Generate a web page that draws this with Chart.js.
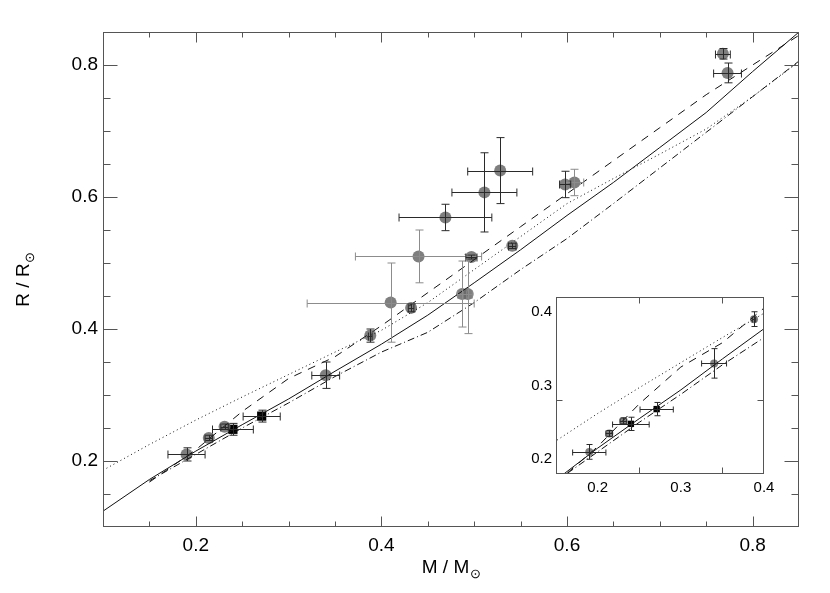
<!DOCTYPE html>
<html>
<head>
<meta charset="utf-8">
<script src="https://cdn.jsdelivr.net/npm/chart.js@4/dist/chart.umd.min.js"></script>
<style>
body { margin: 0; background: #fff; }
#wrap { position: relative; width: 830px; height: 593px; }
#inset { position: absolute; left: 500px; top: 280px; }
</style>
</head>
<body>
<div id="wrap">
<canvas id="main" width="830" height="593"></canvas>
<canvas id="inset" width="285" height="230"></canvas>
</div>
<script>
// model tracks (mass grid, radius for each model)
const trackMass = [0.10, 0.15, 0.20, 0.25, 0.30, 0.35, 0.40, 0.45, 0.50, 0.55, 0.60, 0.65, 0.70, 0.75, 0.80, 0.85];
const solidR   = [0.124, 0.172, 0.215, 0.255, 0.294, 0.336, 0.377, 0.421, 0.470, 0.520, 0.572, 0.622, 0.675, 0.728, 0.790, 0.850];
const dottedR  = [0.186, 0.225, 0.262, 0.297, 0.331, 0.365, 0.398, 0.440, 0.490, 0.540, 0.590, 0.628, 0.665, 0.703, 0.752, 0.805];
// dashed and dash-dot start at 0.15
const dashedR  = [0.168, 0.217, 0.275, 0.325, 0.358, 0.405, 0.455, 0.505, 0.555, 0.605, 0.655, 0.705, 0.755, 0.800, 0.845];
const dashDotR = [0.170, 0.210, 0.250, 0.288, 0.328, 0.365, 0.395, 0.440, 0.490, 0.537, 0.590, 0.644, 0.698, 0.752, 0.806];

// measured stars, dark error bars
const starM  = [0.190, 0.214, 0.231, 0.340, 0.388, 0.432, 0.469, 0.511, 0.528, 0.497, 0.541, 0.598, 0.768, 0.773];
const starR  = [0.210, 0.235, 0.252, 0.330, 0.390, 0.432, 0.569, 0.607, 0.640, 0.509, 0.526, 0.619, 0.817, 0.788];
const starDM = [0.020, 0.004, 0.004, 0.015, 0.002, 0.003, 0.050, 0.035, 0.035, 0.006, 0.004, 0.006, 0.008, 0.015];
const starDR = [0.010, 0.004, 0.004, 0.020, 0.010, 0.006, 0.020, 0.060, 0.050, 0.003, 0.004, 0.020, 0.008, 0.015];

// measured stars, light error bars
const lightM  = [0.410, 0.440, 0.487, 0.493, 0.608];
const lightR  = [0.440, 0.510, 0.453, 0.453, 0.622];
const lightDM = [0.090, 0.068, 0.005, 0.005, 0.010];
const lightDR = [0.060, 0.040, 0.050, 0.060, 0.020];

// black squares
const sqM  = [0.240, 0.271];
const sqR  = [0.248, 0.268];
const sqDM = [0.022, 0.020];
const sqDR = [0.009, 0.009];

const mainXTicks = [0.2, 0.4, 0.6, 0.8];
const mainYTicks = [0.2, 0.4, 0.6, 0.8];
const insetXTicks = [0.2, 0.3, 0.4];
const insetYTicks = [0.2, 0.3, 0.4];

const FONT = "'Liberation Sans', Arial, Helvetica, sans-serif";

function pts(ms, rs) {
    return ms.map((m, i) => ({ x: m, y: rs[i] }));
}

function buildDatasets(big) {
    const line = (ms, rs, dash) => ({
        data: pts(ms, rs), showLine: true, pointRadius: 0, borderWidth: 1,
        borderColor: '#111', borderDash: dash, fill: false
    });
    return [
        line(trackMass, solidR, []),
        line(trackMass, dottedR, [1, 3]),
        line(trackMass.slice(1), dashedR, [8, 7]),
        line(trackMass.slice(1), dashDotR, [7, 3, 1, 3]),
        {
            data: pts(lightM, lightR), errX: lightDM, errY: lightDR, errColor: '#8c8c8c',
            pointRadius: big ? 6 : 4, backgroundColor: 'rgba(105,105,105,0.85)', borderWidth: 0
        },
        {
            data: pts(starM, starR), errX: starDM, errY: starDR, errColor: '#2a2a2a',
            pointRadius: big ? 6 : 4, backgroundColor: 'rgba(105,105,105,0.85)', borderWidth: 0
        },
        {
            data: pts(sqM, sqR), errX: sqDM, errY: sqDR, errColor: '#2a2a2a',
            pointStyle: 'rect', pointRadius: big ? 6.5 : 4.5, backgroundColor: '#000', borderWidth: 0
        }
    ];
}

// error bars drawn from the scales
const errorBars = {
    id: 'errorBars',
    afterDatasetsDraw(chart, args, opts) {
        const { ctx, chartArea: a, scales: { x, y } } = chart;
        const c = opts.cap;
        ctx.save();
        ctx.beginPath();
        ctx.rect(a.left, a.top, a.right - a.left, a.bottom - a.top);
        ctx.clip();
        ctx.lineWidth = 1;
        chart.data.datasets.forEach(ds => {
            if (!ds.errX) return;
            ctx.strokeStyle = ds.errColor;
            ds.data.forEach((p, i) => {
                const px = Math.round(x.getPixelForValue(p.x)) + 0.5;
                const py = Math.round(y.getPixelForValue(p.y)) + 0.5;
                const x0 = x.getPixelForValue(p.x - ds.errX[i]);
                const x1 = x.getPixelForValue(p.x + ds.errX[i]);
                const y0 = y.getPixelForValue(p.y - ds.errY[i]);
                const y1 = y.getPixelForValue(p.y + ds.errY[i]);
                ctx.beginPath();
                ctx.moveTo(x0, py); ctx.lineTo(x1, py);
                ctx.moveTo(px, y0); ctx.lineTo(px, y1);
                ctx.moveTo(x0, py - c); ctx.lineTo(x0, py + c);
                ctx.moveTo(x1, py - c); ctx.lineTo(x1, py + c);
                ctx.moveTo(px - c, y0); ctx.lineTo(px + c, y0);
                ctx.moveTo(px - c, y1); ctx.lineTo(px + c, y1);
                ctx.stroke();
            });
        });
        ctx.restore();
    }
};

// box frame with inward ticks on all four sides
const frameTicks = {
    id: 'frameTicks',
    afterDraw(chart, args, o) {
        const { ctx, chartArea: a, scales: { x, y } } = chart;
        ctx.save();
        ctx.strokeStyle = '#555';
        ctx.lineWidth = 1;
        const L = Math.round(a.left) + 0.5, R = Math.round(a.right) - 0.5;
        const T = Math.round(a.top) + 0.5, B = Math.round(a.bottom) - 0.5;
        ctx.strokeRect(L, T, R - L, B - T);
        ctx.beginPath();
        const isMajor = (v, m) => Math.abs(v / m - Math.round(v / m)) < 1e-6;
        const n = Math.round((x.max - x.min) / o.xStep);
        for (let i = 1; i < n; i++) {
            const v = x.min + i * o.xStep;
            const px = Math.round(x.getPixelForValue(v)) + 0.5;
            const len = isMajor(v, o.xMajor) ? o.xLong : o.xShort;
            ctx.moveTo(px, B); ctx.lineTo(px, B - len);
            ctx.moveTo(px, T); ctx.lineTo(px, T + len);
        }
        const k = Math.round((y.max - y.min) / o.yStep);
        for (let i = 1; i < k; i++) {
            const v = y.min + i * o.yStep;
            const py = Math.round(y.getPixelForValue(v)) + 0.5;
            const len = isMajor(v, o.yMajor) ? o.yLong : o.yShort;
            ctx.moveTo(L, py); ctx.lineTo(L + len, py);
            ctx.moveTo(R, py); ctx.lineTo(R - len, py);
        }
        ctx.stroke();
        ctx.restore();
    }
};

// axis titles with a solar subscript
const axisTitles = {
    id: 'axisTitles',
    afterDraw(chart, args, o) {
        if (!o.show) return;
        const { ctx, chartArea: a } = chart;
        const draw = (sym) => {
            const main = sym + ' / ' + sym;
            ctx.font = '19px ' + FONT;
            const w1 = ctx.measureText(main).width;
            ctx.font = '13px ' + FONT;
            const w2 = ctx.measureText('\u2299').width;
            const x0 = -(w1 + w2) / 2;
            ctx.textBaseline = 'alphabetic';
            ctx.textAlign = 'left';
            ctx.font = '19px ' + FONT;
            ctx.fillText(main, x0, 7);
            ctx.font = '13px ' + FONT;
            ctx.fillText('\u2299', x0 + w1 + 0.5, 12);
        };
        ctx.save();
        ctx.fillStyle = '#000';
        ctx.translate((a.left + a.right) / 2, o.xTitleY);
        draw('M');
        ctx.restore();
        ctx.save();
        ctx.fillStyle = '#000';
        ctx.translate(o.yTitleX, (a.top + a.bottom) / 2);
        ctx.rotate(-Math.PI / 2);
        draw('R');
        ctx.restore();
    }
};

function makeChart(id, opts) {
    const setTicks = (vals) => (s) => { s.ticks = vals.map(v => ({ value: v })); };
    return new Chart(document.getElementById(id), {
        type: 'scatter',
        data: { datasets: buildDatasets(opts.big) },
        options: {
            responsive: false,
            animation: false,
            events: [],
            layout: { padding: opts.padding },
            plugins: {
                legend: { display: false },
                tooltip: { enabled: false },
                errorBars: { cap: opts.big ? 4 : 3 },
                frameTicks: opts.frame,
                axisTitles: { show: opts.big, xTitleY: 566, yTitleX: 22 }
            },
            scales: {
                x: {
                    type: 'linear', min: opts.xRange[0], max: opts.xRange[1],
                    afterBuildTicks: setTicks(opts.xTicks),
                    afterFit: (s) => { s.height = opts.xHeight; },
                    grid: { display: false, drawTicks: false },
                    border: { display: false },
                    ticks: {
                        padding: opts.xPad, color: '#000', maxRotation: 0,
                        font: { family: FONT, size: opts.fontSize },
                        callback: (v) => v.toFixed(1)
                    }
                },
                y: {
                    type: 'linear', min: opts.yRange[0], max: opts.yRange[1],
                    afterBuildTicks: setTicks(opts.yTicks),
                    afterFit: (s) => { s.width = opts.yWidth; },
                    grid: { display: false, drawTicks: false },
                    border: { display: false },
                    ticks: {
                        padding: opts.yPad, color: '#000',
                        font: { family: FONT, size: opts.fontSize },
                        callback: (v) => v.toFixed(1)
                    }
                }
            }
        },
        plugins: [errorBars, frameTicks, axisTitles]
    });
}

const mainChart = makeChart('main', {
    big: true,
    padding: { top: 32, right: 31, left: 0, bottom: 0 },
    xRange: [0.1, 0.85], yRange: [0.1, 0.85],
    xTicks: mainXTicks, yTicks: mainYTicks,
    xHeight: 66, yWidth: 103, xPad: 7, yPad: 5, fontSize: 19,
    frame: { xStep: 0.05, xMajor: 0.2, xLong: 10, xShort: 5, yStep: 0.05, yMajor: 0.2, yLong: 14, yShort: 7 }
});

const insetChart = makeChart('inset', {
    big: false,
    padding: { top: 17, right: 21, left: 0, bottom: 0 },
    xRange: [0.15, 0.4], yRange: [0.18, 0.42],
    xTicks: insetXTicks, yTicks: insetYTicks,
    xHeight: 36, yWidth: 56, xPad: 5, yPad: 4, fontSize: 15,
    frame: { xStep: 0.1, xMajor: 0.1, xLong: 6, xShort: 6, yStep: 0.1, yMajor: 0.1, yLong: 6, yShort: 6 }
});
</script>
</body>
</html>
